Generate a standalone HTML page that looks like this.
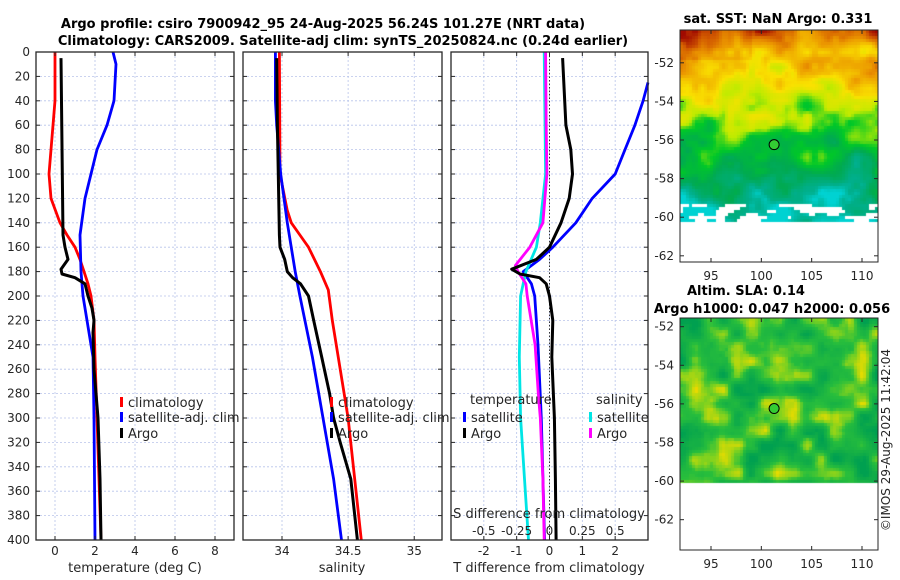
<!DOCTYPE html>
<html><head><meta charset="utf-8">
<style>
body{margin:0;background:#fff;width:900px;height:580px;overflow:hidden;font-family:"DejaVu Sans","Liberation Sans",sans-serif;}
#wrap{position:relative;width:900px;height:580px;}
svg{position:absolute;left:0;top:0;}
canvas{position:absolute;}
</style></head>
<body>
<div id="wrap">
<canvas id="map1" width="198" height="232" style="left:680px;top:30px"></canvas>
<canvas id="map2" width="198" height="232" style="left:680px;top:318px"></canvas>
<svg id="chart" width="900" height="580"></svg>
</div>
<script>
// ---- data (depth in m) ----
const depthTicks=[0,20,40,60,80,100,120,140,160,180,200,220,240,260,280,300,320,340,360,380,400];
const tTicks=[0,2,4,6,8];
const sTicks=[34,34.5,35];
const dTicks=[-2,-1,0,1,2];
const dTickLabels=['-2','-1','0','1','2'];
const sdTicks=[-0.5,-0.25,0,0.25,0.5];
const sdTickLabels=['-0.5','-0.25','0','0.25','0.5'];
// temperature
const climTDepth=[0,40,60,80,100,120,140,150,160,170,180,190,200,220,250,300,350,400];
const climTVal=[0.0,0.0,-0.1,-0.2,-0.3,-0.2,0.25,0.6,1.0,1.25,1.45,1.65,1.8,1.95,2.0,2.1,2.2,2.3];
const satTDepth=[0,10,40,60,80,100,120,150,180,200,250,300,400];
const satTVal=[2.9,3.05,2.95,2.6,2.1,1.8,1.5,1.25,1.3,1.4,1.9,1.95,2.0];
const argoTDepth=[5,150,160,170,178,182,185,190,200,210,220,230,260,300,350,400];
const argoTVal=[0.3,0.4,0.5,0.65,0.3,0.35,1.0,1.5,1.65,1.85,1.95,1.9,1.95,2.15,2.25,2.3];
// salinity
const climSDepth=[0,100,130,140,150,160,180,195,220,260,300,350,400];
const climSVal=[33.98,33.985,34.04,34.07,34.135,34.2,34.29,34.35,34.38,34.44,34.5,34.55,34.6];
const satSDepth=[0,40,60,100,140,180,200,250,300,350,400];
const satSVal=[33.95,33.95,33.96,33.99,34.04,34.1,34.135,34.23,34.31,34.39,34.45];
const argoSDepth=[5,60,150,160,170,180,185,190,200,220,250,280,300,320,350,400];
const argoSVal=[33.96,33.965,33.98,33.985,34.02,34.04,34.08,34.14,34.2,34.24,34.3,34.36,34.39,34.44,34.52,34.57];
// differences
const dTSatDepth=[25,40,60,80,100,120,140,160,170,180,190,200,240,300,400];
const dTSatVal=[3.0,2.85,2.6,2.3,2.0,1.3,0.8,0.1,-0.3,-0.8,-0.55,-0.45,-0.35,-0.25,-0.15];
const dTArgoDepth=[5,60,80,100,120,140,160,170,178,182,185,190,200,220,250,300,350,400];
const dTArgoVal=[0.4,0.5,0.65,0.7,0.6,0.35,0.0,-0.4,-1.15,-0.9,-0.3,-0.1,0.0,0.1,0.07,0.15,0.18,0.2];
const dSSatDepth=[0,100,140,160,180,190,200,250,300,350,400];
const dSSatVal=[-0.04,-0.03,-0.07,-0.1,-0.18,-0.2,-0.22,-0.23,-0.22,-0.19,-0.16];
const dSArgoDepth=[0,60,100,140,160,175,180,190,200,240,280,300,350,400];
const dSArgoVal=[-0.03,-0.025,-0.02,-0.05,-0.15,-0.26,-0.24,-0.18,-0.17,-0.11,-0.085,-0.07,-0.05,-0.04];
const mapLonTicks=[95,100,105,110];
const mapLatTicks=[-52,-54,-56,-58,-60,-62];
const argoLon=101.27, argoLat=-56.24;

const NS='http://www.w3.org/2000/svg';
const svg=document.getElementById('chart');
function mk(tag,attrs,parent){const e=document.createElementNS(NS,tag);for(const k in attrs)e.setAttribute(k,attrs[k]);(parent||svg).appendChild(e);return e;}
function txt(x,y,s,opt,parent){const t=mk('text',Object.assign({x:x,y:y,'font-size':12,fill:'#262626','text-anchor':'middle','font-family':'DejaVu Sans, Liberation Sans, sans-serif'},opt||{}),parent);t.textContent=s;return t;}

const Y0=52,Y1=540;
function yD(d){return Y0+(d/400)*(Y1-Y0);}
function lin(a,b,pa,pb){return v=>pa+(v-a)/(b-a)*(pb-pa);}
const p1={x0:36,x1:234,fx:lin(-0.95,8.95,36,234)};
const p2={x0:243,x1:442,fx:lin(33.705,35.21,243,442)};
const p3={x0:451,x1:648,fx:lin(-3,3,451,648)};
const fxS=v=>p3.fx(v*4);

function panel(p,name){
  const g=mk('g',{});
  
  
  return g;
}
function grid(g,p,xt,fx){
  depthTicks.forEach(d=>{mk('line',{x1:p.x0,x2:p.x1,y1:yD(d),y2:yD(d),stroke:'#b8c4ea','stroke-width':0.8,'stroke-dasharray':'2,2'},g);});
  xt.forEach(v=>{mk('line',{x1:fx(v),x2:fx(v),y1:Y0,y2:Y1,stroke:'#b8c4ea','stroke-width':0.8,'stroke-dasharray':'2,2'},g);});
}
function frame(g,p,xt,fx,labels){
  mk('rect',{x:p.x0,y:Y0,width:p.x1-p.x0,height:Y1-Y0,fill:'none',stroke:'#262626','stroke-width':1.3},g);
  depthTicks.forEach(d=>{const y=yD(d);mk('line',{x1:p.x0,x2:p.x0+4,y1:y,y2:y,stroke:'#262626'},g);mk('line',{x1:p.x1-4,x2:p.x1,y1:y,y2:y,stroke:'#262626'},g);});
  xt.forEach((v,i)=>{const x=fx(v);mk('line',{x1:x,x2:x,y1:Y1,y2:Y1-4,stroke:'#262626'},g);mk('line',{x1:x,x2:x,y1:Y0,y2:Y0+4,stroke:'#262626'},g);
    const t=txt(x,555,labels?labels[i]:String(v),{},g);});
}
function line(g,ds,vs,fx,color,name,w){
  const pts=ds.map((d,i)=>fx(vs[i]).toFixed(1)+','+yD(d).toFixed(1)).join(' ');
  const e=mk('polyline',{points:pts,fill:'none',stroke:color,'stroke-width':w||2.8,'stroke-linejoin':'round'},g);
  
  
}
function legend(g,x,y,color,label,name){
  mk('rect',{x:x,y:y-10,width:3,height:10,fill:color},g);
  const t=txt(x+8,y,label,{'text-anchor':'start','font-size':13},g);
  
  
}

// Panel 1
const g1=panel(p1,'temperature-panel');
grid(g1,p1,tTicks,p1.fx);
line(g1,climTDepth,climTVal,p1.fx,'#ff0000','climatology-temperature-line');
line(g1,satTDepth,satTVal,p1.fx,'#0000ff','satellite-temperature-line');
line(g1,argoTDepth,argoTVal,p1.fx,'#000000','argo-temperature-line',3);
frame(g1,p1,tTicks,p1.fx);
depthTicks.forEach(d=>{const t=txt(30,yD(d)+4,String(d),{'text-anchor':'end'},g1);});
legend(g1,120,407,'#ff0000','climatology','legend-climatology');
legend(g1,120,422,'#0000ff','satellite-adj. clim','legend-satellite-adj-clim');
legend(g1,120,438,'#000000','Argo','legend-argo');
{const t=txt(135,572,'temperature (deg C)',{'font-size':13},g1);}

// Panel 2
const g2=panel(p2,'salinity-panel');
grid(g2,p2,sTicks,p2.fx);
line(g2,climSDepth,climSVal,p2.fx,'#ff0000','climatology-salinity-line');
line(g2,satSDepth,satSVal,p2.fx,'#0000ff','satellite-salinity-line');
line(g2,argoSDepth,argoSVal,p2.fx,'#000000','argo-salinity-line',3);
frame(g2,p2,sTicks,p2.fx);
legend(g2,330,407,'#ff0000','climatology','legend-climatology-2');
legend(g2,330,422,'#0000ff','satellite-adj. clim','legend-satellite-adj-clim-2');
legend(g2,330,438,'#000000','Argo','legend-argo-2');
{const t=txt(342,572,'salinity',{'font-size':13},g2);}

// Panel 3
const g3=panel(p3,'difference-panel');
grid(g3,p3,dTicks,p3.fx);
mk('line',{x1:p3.fx(0),x2:p3.fx(0),y1:Y0,y2:Y1,stroke:'#333','stroke-width':1,'stroke-dasharray':'1.5,2'},g3);
line(g3,dTSatDepth,dTSatVal,p3.fx,'#0000ff','satellite-temperature-diff-line');
line(g3,dSSatDepth,dSSatVal,fxS,'#00e5e5','satellite-salinity-diff-line');
line(g3,dSArgoDepth,dSArgoVal,fxS,'#ff00ff','argo-salinity-diff-line');
line(g3,dTArgoDepth,dTArgoVal,p3.fx,'#000000','argo-temperature-diff-line',3);
frame(g3,p3,dTicks,p3.fx,dTickLabels);
txt(470,404,'temperature',{'text-anchor':'start','font-size':13},g3);
legend(g3,463,422,'#0000ff','satellite','legend-temp-satellite');
legend(g3,463,438,'#000000','Argo','legend-temp-argo');
txt(596,404,'salinity',{'text-anchor':'start','font-size':13},g3);
legend(g3,589,422,'#00e5e5','satellite','legend-sal-satellite');
legend(g3,589,438,'#ff00ff','Argo','legend-sal-argo');
txt(549,518,'S difference from climatology',{'font-size':13},g3);
sdTicks.forEach((v,i)=>{const t=txt(fxS(v),535,sdTickLabels[i],{},g3);});
{const t=txt(549,572,'T difference from climatology',{'font-size':13},g3);}

// titles
{const t=txt(323,28,'Argo profile: csiro 7900942_95 24-Aug-2025 56.24S 101.27E (NRT data)',{'font-weight':'bold','font-size':13,fill:'#000'});}
{const t=txt(343,45,'Climatology: CARS2009. Satellite-adj clim: synTS_20250824.nc (0.24d earlier)',{'font-weight':'bold','font-size':13,fill:'#000'});}

// maps
const m={x0:680,x1:878,fx:lin(95,110,711,862)};
function mapAxes(top,latTop,latPerPx,name){
  const g=mk('g',{});
  
  
  const fy=lat=>top+(latTop-lat)/latPerPx;
  mk('rect',{x:680,y:top,width:198,height:232,fill:'none',stroke:'#262626','stroke-width':1},g);
  mapLatTicks.forEach(l=>{const y=fy(l);if(y<top||y>top+232)return;mk('line',{x1:680,x2:684,y1:y,y2:y,stroke:'#262626'},g);mk('line',{x1:874,x2:878,y1:y,y2:y,stroke:'#262626'},g);txt(674,y+4,String(l),{'text-anchor':'end'},g);});
  mapLonTicks.forEach(l=>{const x=m.fx(l);mk('line',{x1:x,x2:x,y1:top+232,y2:top+228,stroke:'#262626'},g);mk('line',{x1:x,x2:x,y1:top,y2:top+4,stroke:'#262626'},g);txt(x,top+250,String(l),{},g);});
  const c=mk('circle',{cx:m.fx(argoLon),cy:fy(argoLat),r:5,fill:'#33cc33',stroke:'#000','stroke-width':1},g);
  
  
  return fy;
}
const fy1=mapAxes(30,-50.3,1/19.3,'sst-map-axes');
const fy2=mapAxes(318,-51.55,1/19.3,'sla-map-axes');
txt(778,23,'sat. SST: NaN Argo: 0.331',{'font-weight':'bold','font-size':13,fill:'#000'});
txt(687,295,'Altim. SLA: 0.14',{'font-weight':'bold','font-size':13,fill:'#000','text-anchor':'start'});
txt(772,313,'Argo h1000: 0.047 h2000: 0.056',{'font-weight':'bold','font-size':13,fill:'#000'});
{const t=txt(890,440,'©IMOS 29-Aug-2025 11:42:04',{'font-size':12,transform:'rotate(-90 890 440)'});}

// map textures (deterministic pseudo-noise)
function h(i,j,s){let n=Math.sin(i*127.1+j*311.7+s*74.7)*43758.5453;return n-Math.floor(n);}
function vn(x,y,s){const i=Math.floor(x),j=Math.floor(y),fx=x-i,fy=y-j;const a=h(i,j,s),b=h(i+1,j,s),c=h(i,j+1,s),d=h(i+1,j+1,s);const u=fx*fx*(3-2*fx),v=fy*fy*(3-2*fy);return a+(b-a)*u+(c-a)*v+(a-b-c+d)*u*v;}
function ramp(stops,t){t=Math.max(0,Math.min(1,t));for(let k=1;k<stops.length;k++){if(t<=stops[k][0]){const a=stops[k-1],b=stops[k],f=(t-a[0])/(b[0]-a[0]);return [0,1,2].map(q=>Math.round(a[1][q]+(b[1][q]-a[1][q])*f));}}return stops[stops.length-1][1];}
const sstStops=[[0,[0,210,210]],[0.1,[0,175,140]],[0.25,[0,170,80]],[0.38,[0,200,40]],[0.5,[190,235,0]],[0.62,[250,225,0]],[0.78,[235,150,0]],[0.9,[210,90,0]],[1,[160,10,0]]];
(function(){const c=document.getElementById('map1').getContext('2d');const B=3;
 for(let y=0;y<232;y+=B)for(let x=0;x<198;x+=B){
  const lat=-50.3-y/19.3;
  if(lat<-60.1)continue;
  const d=-lat-50.3;
  let t=0.85-d*0.085+(vn(x/25,y/18,1)-0.5)*0.3+(vn(x/7,y/7,2)-0.5)*0.1;
  if(x<70&&y<30)t+=0.12*(1-x/70)*(1-y/30)+0.05;
  if(lat<-59.2&&vn(x/10,y/6,5)>0.6)continue;
  const col=ramp(sstStops,t);c.fillStyle='rgb('+col+')';c.fillRect(x,y,B,B);}
})();
const slaStops=[[0,[0,160,80]],[0.45,[40,190,60]],[0.65,[130,210,30]],[0.85,[230,220,0]],[1,[250,200,0]]];
(function(){const c=document.getElementById('map2').getContext('2d');const B=3;
 for(let y=0;y<232;y+=B)for(let x=0;x<198;x+=B){
  const lat=-51.55-y/19.3;
  if(lat<-60)continue;
  let t=0.4+(vn(x/14,y/14,3)-0.5)*0.9+(vn(x/5,y/5,4)-0.5)*0.15;
  const col=ramp(slaStops,t);c.fillStyle='rgb('+col+')';c.fillRect(x,y,B,B);}
})();
</script>
</body></html>
